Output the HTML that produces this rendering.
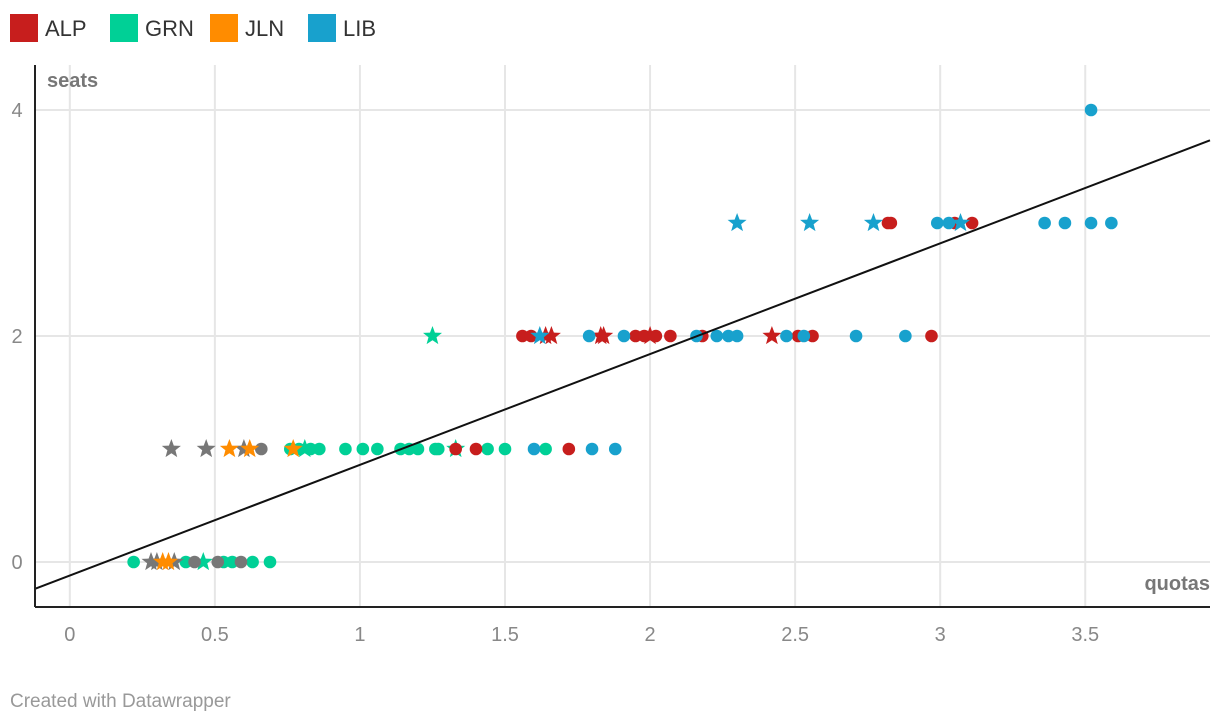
<!DOCTYPE html>
<html><head><meta charset="utf-8"><style>
body{margin:0;background:#fff;font-family:"Liberation Sans",sans-serif;}
svg{display:block}
</style></head><body>
<svg id="chart" width="1220" height="724" xmlns="http://www.w3.org/2000/svg" font-family="Liberation Sans, sans-serif">
<g>
<g><rect x="10" y="14" width="28" height="28" fill="#c71e1d"/><text x="45" y="36" font-size="22" fill="#333">ALP</text></g>
<g><rect x="110" y="14" width="28" height="28" fill="#00d096"/><text x="145" y="36" font-size="22" fill="#333">GRN</text></g>
<g><rect x="210" y="14" width="28" height="28" fill="#ff8c00"/><text x="245" y="36" font-size="22" fill="#333">JLN</text></g>
<g><rect x="308" y="14" width="28" height="28" fill="#18a1cd"/><text x="343" y="36" font-size="22" fill="#333">LIB</text></g>
</g>
<g id="grid"></g><g id="marks"></g>
<line x1="35" y1="65" x2="35" y2="607" stroke="#222" stroke-width="2"/>
<line x1="35" y1="607" x2="1210" y2="607" stroke="#222" stroke-width="2"/>
<text x="47" y="87" font-size="20" font-weight="bold" fill="#777">seats</text>
<text x="1210" y="590" font-size="20" font-weight="bold" fill="#777" text-anchor="end">quotas</text>
<text x="10" y="707" font-size="19" fill="#999">Created with Datawrapper</text>
</svg>
<script>
const xTicks=[0,0.5,1,1.5,2,2.5,3,3.5];
const xTickLabels=["0","0.5","1","1.5","2","2.5","3","3.5"];
const yTicks=[0,2,4];
const yTickLabels=["0","2","4"];
const lineSlope=0.98, lineIntercept=-0.12;
const colors={ALP:"#c71e1d",GRN:"#00d096",JLN:"#ff8c00",LIB:"#18a1cd",OTH:"#777"};
// [quotas, seats, isStar]
const grnPts=[[0.22,0,0],[0.40,0,0],[0.53,0,0],[0.56,0,0],[0.63,0,0],[0.69,0,0],[0.46,0,1],[0.76,1,0],[0.79,1,0],[0.83,1,0],[0.86,1,0],[0.95,1,0],[1.01,1,0],[1.06,1,0],[1.14,1,0],[1.17,1,0],[1.20,1,0],[1.26,1,0],[1.27,1,0],[1.44,1,0],[1.50,1,0],[1.64,1,0],[0.81,1,1],[1.33,1,1],[1.25,2,1]];
const othPts=[[0.28,0,1],[0.30,0,1],[0.36,0,1],[0.43,0,0],[0.51,0,0],[0.59,0,0],[0.35,1,1],[0.47,1,1],[0.60,1,1],[0.66,1,0]];
const jlnPts=[[0.32,0,1],[0.34,0,1],[0.55,1,1],[0.62,1,1],[0.77,1,1]];
const alpPts=[[1.33,1,0],[1.40,1,0],[1.72,1,0],[1.56,2,0],[1.59,2,0],[1.95,2,0],[1.98,2,0],[2.02,2,0],[2.07,2,0],[2.18,2,0],[2.51,2,0],[2.56,2,0],[2.97,2,0],[1.64,2,1],[1.66,2,1],[1.83,2,1],[1.84,2,1],[2.00,2,1],[2.42,2,1],[2.82,3,0],[2.83,3,0],[3.05,3,0],[3.11,3,0]];
const libPts=[[1.60,1,0],[1.80,1,0],[1.88,1,0],[1.62,2,1],[1.79,2,0],[1.91,2,0],[2.16,2,0],[2.23,2,0],[2.27,2,0],[2.30,2,0],[2.47,2,0],[2.53,2,0],[2.71,2,0],[2.88,2,0],[2.30,3,1],[2.55,3,1],[2.77,3,1],[3.07,3,1],[2.99,3,0],[3.03,3,0],[3.36,3,0],[3.43,3,0],[3.52,3,0],[3.59,3,0],[3.52,4,0]];
const NS="http://www.w3.org/2000/svg";
const X0=-0.12,X1=3.93,PX0=35,PX1=1210;
function sx(v){return PX0+(v-X0)*(PX1-PX0)/(X1-X0);}
function sy(v){return 562-v*113;}
function mk(t,a,p){const e=document.createElementNS(NS,t);for(const k in a)e.setAttribute(k,a[k]);p.appendChild(e);return e;}
const grid=document.getElementById('grid'),marks=document.getElementById('marks');
xTicks.forEach((t,i)=>{
 const l=mk('line',{x1:sx(t),x2:sx(t),y1:65,y2:607,stroke:'#e6e6e6','stroke-width':2},grid);
 
 
 const tx=mk('text',{x:sx(t),y:641,'font-size':20,fill:'#888','text-anchor':'middle'},grid);
 tx.textContent=xTickLabels[i];
 
 
});
yTicks.forEach((t,i)=>{
 const l=mk('line',{x1:35,x2:1210,y1:sy(t),y2:sy(t),stroke:'#e6e6e6','stroke-width':2},grid);
 
 
 const tx=mk('text',{x:17,y:sy(t)+7,'font-size':20,fill:'#888','text-anchor':'middle'},grid);
 tx.textContent=yTickLabels[i];
 
 
});
function star(cx,cy,r){let p=[];for(let i=0;i<10;i++){const a=-Math.PI/2+i*Math.PI/5,rr=i%2?r*0.42:r;p.push((cx+rr*Math.cos(a)).toFixed(1)+','+(cy+rr*Math.sin(a)).toFixed(1));}return p.join(' ');}
function draw(arr,party){arr.forEach(d=>{
 const cx=sx(d[0]),cy=sy(d[1]);let e;
 if(d[2]) e=mk('polygon',{points:star(cx,cy,10),fill:colors[party]},marks);
 else e=mk('circle',{cx:cx,cy:cy,r:6.3,fill:colors[party]},marks);
 
 
});}
draw(grnPts,'GRN');draw(othPts,'OTH');draw(jlnPts,'JLN');draw(alpPts,'ALP');draw(libPts,'LIB');
const rl=mk('line',{x1:sx(X0),y1:sy(lineSlope*X0+lineIntercept),x2:sx(X1),y2:sy(lineSlope*X1+lineIntercept),stroke:'#111','stroke-width':2},marks);


</script>
</body></html>
